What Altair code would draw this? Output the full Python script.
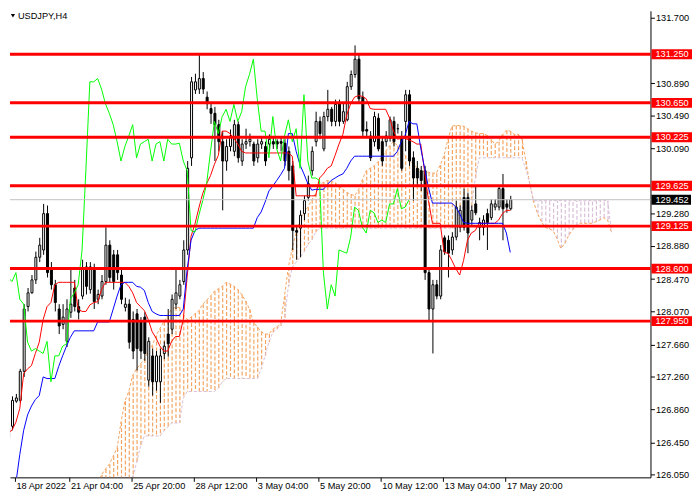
import altair as alt
import pandas as pd

# ---------------- data (USDJPY, H4) ----------------
opens = [
    126.51, 126.65, 126.96, 126.97, 127.33, 128.13, 128.30, 128.46, 128.74, 128.83,
    129.28, 128.59, 128.40, 128.10, 127.91, 127.70, 128.06, 128.36, 128.13, 128.26,
    128.62, 128.34, 128.61, 128.22, 128.26, 128.44, 128.89, 128.77, 128.77, 128.52,
    128.12, 128.16, 127.97, 128.04, 127.94, 128.00, 127.22, 127.52, 127.20, 127.20,
    127.55, 127.79, 127.85, 128.16, 128.26, 128.44, 128.83, 129.97, 130.81, 130.82,
    130.95, 130.72, 130.58, 130.52, 130.38, 130.17, 129.93, 130.11, 130.05, 130.38,
    129.93, 130.14, 130.17, 130.14, 129.97, 130.14, 130.11, 130.14, 130.17, 130.17,
    130.17, 130.15, 130.05, 129.87, 129.07, 129.10, 129.28, 129.48, 129.81, 130.17,
    130.42, 130.08, 130.48, 130.57, 130.42, 130.64, 130.42, 130.44, 130.85, 131.00,
    131.19, 130.72, 130.32, 130.24, 130.17, 130.46, 130.17, 130.17, 130.21, 130.42,
    130.33, 130.21, 130.42, 130.75, 129.97, 129.84, 129.81, 129.81, 128.55, 128.10,
    128.40, 128.26, 128.98, 128.95, 128.83, 128.99, 129.11, 129.48, 129.48, 129.20,
    129.40, 129.11, 129.11, 129.28, 129.23, 129.36, 129.36, 129.59, 129.40, 129.34,
]
highs = [
    126.69, 127.02, 127.05, 127.36, 128.16, 128.36, 128.52, 128.81, 128.98, 129.40,
    129.38, 128.68, 128.46, 128.16, 128.16, 128.22, 128.62, 128.46, 128.22, 128.71,
    128.68, 128.68, 128.66, 128.34, 128.52, 129.11, 128.95, 128.83, 128.83, 128.59,
    128.24, 128.22, 128.07, 128.10, 128.00, 128.06, 127.75, 127.61, 127.58, 127.61,
    127.70, 128.10, 128.28, 128.59, 128.46, 128.95, 129.93, 130.97, 131.01, 131.24,
    131.03, 130.79, 130.66, 130.60, 130.44, 130.30, 130.20, 130.32, 130.44, 130.42,
    130.20, 130.33, 130.27, 130.17, 130.20, 130.24, 130.17, 130.26, 130.22, 130.20,
    130.22, 130.20, 130.11, 129.93, 129.14, 129.32, 129.50, 129.75, 130.11, 130.54,
    130.48, 130.54, 130.81, 130.60, 130.69, 130.69, 130.64, 130.91, 131.05, 131.36,
    131.25, 130.79, 130.42, 130.30, 130.54, 130.52, 130.24, 130.30, 130.48, 130.48,
    130.39, 130.30, 130.81, 130.81, 130.05, 129.93, 129.87, 129.87, 128.61, 128.46,
    128.46, 128.89, 129.01, 129.01, 129.05, 129.44, 129.38, 129.59, 129.54, 129.38,
    129.62, 129.23, 129.26, 129.34, 129.46, 129.46, 129.62, 129.77, 129.46, 129.50,
]
lows = [
    126.43, 126.60, 126.94, 126.94, 127.26, 128.07, 128.29, 128.41, 128.68, 128.77,
    128.49, 128.34, 128.07, 127.79, 127.85, 127.63, 127.99, 128.07, 127.97, 128.22,
    128.28, 128.29, 128.10, 128.16, 128.22, 128.40, 128.43, 128.34, 128.46, 128.16,
    128.07, 127.61, 127.48, 127.34, 127.48, 127.46, 127.14, 127.03, 127.09, 126.94,
    127.48, 127.51, 127.79, 128.10, 128.22, 128.40, 128.77, 129.87, 130.76, 130.76,
    130.76, 130.57, 130.39, 129.93, 130.05, 129.32, 129.81, 130.05, 129.99, 129.91,
    129.87, 130.08, 130.11, 129.87, 129.91, 130.08, 129.87, 130.05, 130.08, 130.08,
    130.05, 129.87, 129.69, 128.83, 128.71, 128.74, 129.20, 129.44, 129.75, 130.11,
    130.20, 130.05, 130.42, 130.36, 130.36, 130.36, 130.39, 130.42, 130.81, 130.96,
    130.66, 130.24, 130.24, 129.93, 130.11, 130.05, 129.87, 130.11, 130.17, 130.11,
    130.27, 129.81, 130.05, 129.87, 129.44, 129.62, 129.56, 128.46, 127.95, 127.55,
    128.22, 128.22, 128.77, 128.49, 128.77, 128.95, 129.05, 129.07, 128.79, 129.14,
    129.26, 128.95, 129.01, 128.83, 129.20, 129.32, 129.32, 128.95, 129.29, 129.32,
]
closes = [
    126.63, 126.97, 127.00, 127.33, 128.10, 128.30, 128.46, 128.74, 128.89, 129.28,
    128.55, 128.40, 128.18, 127.89, 128.00, 128.10, 128.16, 128.13, 128.06, 128.59,
    128.38, 128.62, 128.19, 128.28, 128.44, 128.89, 128.49, 128.44, 128.55, 128.22,
    128.16, 127.69, 127.58, 127.61, 127.58, 127.55, 127.70, 127.20, 127.52, 127.52,
    127.64, 127.67, 128.22, 128.30, 128.40, 128.83, 129.84, 130.91, 130.91, 130.95,
    130.82, 130.64, 130.52, 130.38, 130.17, 129.93, 130.11, 130.24, 130.38, 129.97,
    130.14, 130.17, 130.20, 129.93, 130.14, 130.17, 129.93, 130.20, 130.14, 130.14,
    130.15, 129.93, 129.81, 129.07, 129.05, 129.26, 129.44, 129.65, 130.05, 130.42,
    130.27, 130.48, 130.57, 130.42, 130.63, 130.42, 130.54, 130.85, 131.00, 131.19,
    130.70, 130.30, 130.30, 129.97, 130.48, 130.08, 129.93, 130.24, 130.44, 130.17,
    130.33, 129.84, 130.75, 129.93, 129.72, 129.72, 129.69, 128.55, 128.10, 128.40,
    128.26, 128.83, 128.81, 128.79, 128.99, 129.36, 129.32, 129.11, 129.04, 129.32,
    129.29, 129.17, 129.20, 129.17, 129.40, 129.40, 129.59, 129.34, 129.36, 129.452,
]
tenkan = [
    126.57, 126.60, 126.70, 126.87, 127.30, 127.36, 127.40, 127.55, 127.69, 127.97,
    128.13, 128.18, 128.40, 128.43, 128.43, 128.43, 128.43, 128.43, 128.10, 128.07,
    128.07, 128.15, 128.18, 128.19, 128.34, 128.43, 128.43, 128.43, 128.43, 128.43,
    128.43, 128.38, 128.30, 128.18, 128.13, 128.08, 127.97, 127.82, 127.74, 127.64,
    127.58, 127.58, 127.70, 127.76, 127.76, 127.97, 128.50, 129.00, 129.15, 129.35,
    129.53, 129.65, 129.75, 129.89, 130.00, 130.30, 130.30, 130.27, 130.21, 130.14,
    130.05, 130.03, 130.03, 130.03, 130.03, 130.03, 130.03, 130.03, 130.03, 130.03,
    130.03, 130.03, 130.03, 129.99, 129.50, 129.50, 129.50, 129.50, 129.50, 129.50,
    129.72, 129.77, 129.84, 129.87, 130.00, 130.14, 130.26, 130.50, 130.64, 130.72,
    130.74, 130.73, 130.70, 130.58, 130.57, 130.57, 130.57, 130.57, 130.46, 130.30,
    130.20, 130.21, 130.21, 130.19, 130.17, 130.14, 130.14, 129.80, 129.44, 129.16,
    129.16, 129.16, 128.80, 128.79, 128.70, 128.60, 128.52, 128.70, 128.95, 129.04,
    129.07, 129.16, 129.16, 129.16, 129.16, 129.16, 129.20, 129.28, 129.32, 129.32,
]
kijun = [
    125.60, 125.80, 125.95, 126.30, 126.60, 126.79, 126.90, 126.98, 127.03, 127.26,
    127.24, 127.24, 127.24, 127.39, 127.52, 127.64, 127.75, 127.83, 127.83, 127.83,
    127.83, 127.83, 127.83, 127.94, 127.94, 127.94, 127.94, 128.10, 128.26, 128.40,
    128.43, 128.43, 128.43, 128.38, 128.37, 128.33, 128.18, 128.07, 128.04, 128.02,
    128.02, 128.02, 128.02, 128.02, 128.02, 128.10, 128.59, 128.95, 129.07, 129.10,
    129.10, 129.10, 129.10, 129.10, 129.10, 129.10, 129.10, 129.10, 129.10, 129.10,
    129.10, 129.10, 129.10, 129.10, 129.23, 129.30, 129.42, 129.56, 129.62, 129.69,
    129.76, 129.84, 130.27, 130.27, 130.05, 129.88, 129.77, 129.65, 129.57, 129.58,
    129.58, 129.58, 129.64, 129.69, 129.72, 129.75, 129.77, 129.84, 129.93, 129.99,
    129.99, 129.99, 129.99, 129.99, 129.99, 129.99, 129.99, 129.99, 129.99, 129.99,
    130.05, 130.17, 130.25, 130.42, 130.39, 130.39, 130.09, 129.84, 129.60, 129.41,
    129.41, 129.41, 129.41, 129.41, 129.41, 129.36, 129.28, 129.17, 129.16, 129.16,
    129.16, 129.16, 129.16, 129.16, 129.16, 129.16, 129.16, 129.16, 129.04, 128.80,
]
chikou_shift = 26
span_start = 23
span_a = [
    125.95, 126.05, 126.12, 126.18, 126.28, 126.38, 126.70, 126.96, 127.08, 127.28,
    127.36, 127.42, 127.48, 127.58, 127.65, 127.77, 127.86, 127.94, 128.02, 128.10,
    128.12, 128.12, 128.03, 127.97, 128.00, 128.04, 128.08, 128.16, 128.21, 128.26,
    128.32, 128.35, 128.38, 128.43, 128.41, 128.38, 128.34, 128.28, 128.20, 128.10,
    127.94, 127.88, 127.82, 127.79, 127.79, 127.85, 127.88, 127.91, 128.26, 128.62,
    128.85, 129.05, 129.20, 129.30, 129.36, 129.45, 129.53, 129.62, 129.67, 129.69,
    129.68, 129.66, 129.62, 129.58, 129.54, 129.52, 129.50, 129.57, 129.70, 129.81,
    129.84, 129.87, 129.92, 129.98, 130.05, 130.12, 130.17, 130.12, 130.05, 130.00,
    129.95, 129.90, 129.85, 129.81, 129.80, 129.79, 129.78, 129.78, 129.88, 130.00,
    130.20, 130.36, 130.37, 130.37, 130.36, 130.33, 130.30, 130.28, 130.27, 130.27,
    130.25, 130.20, 130.14, 130.17, 130.26, 130.31, 130.30, 130.26, 130.26, 130.20,
    129.93, 129.65, 129.42, 129.28, 129.18, 129.11, 129.09, 129.07, 128.97, 128.85,
    128.91, 129.01, 129.08, 129.13, 129.16, 129.16, 129.16, 129.16, 129.18, 129.20,
    129.23, 129.20, 129.05,
]
span_b = [
    125.60, 125.62, 125.65, 125.68, 125.72, 125.76, 125.82, 125.88, 125.95, 126.02,
    126.20, 126.40, 126.53, 126.53, 126.53, 126.53, 126.53, 126.59, 126.64, 126.69,
    126.69, 126.69, 127.00, 127.08, 127.08, 127.08, 127.08, 127.08, 127.08, 127.08,
    127.08, 127.12, 127.20, 127.24, 127.24, 127.24, 127.24, 127.24, 127.24, 127.24,
    127.24, 127.24, 127.36, 127.52, 127.69, 127.81, 127.85, 127.89, 127.98, 128.38,
    128.62, 128.68, 128.74, 128.80, 128.90, 128.95, 129.05, 129.10, 129.10, 129.10,
    129.10, 129.10, 129.10, 129.10, 129.10, 129.10, 129.10, 129.10, 129.10, 129.10,
    129.10, 129.10, 129.10, 129.10, 129.10, 129.10, 129.10, 129.10, 129.10, 129.10,
    129.10, 129.10, 129.10, 129.10, 129.10, 129.10, 129.10, 129.10, 129.10, 129.10,
    129.10, 129.10, 129.10, 129.35, 129.35, 129.35, 129.35, 129.71, 129.97, 129.97,
    129.97, 129.97, 129.97, 129.97, 129.97, 129.97, 129.97, 129.97, 129.97, 129.97,
    129.83, 129.65, 129.44, 129.44, 129.44, 129.44, 129.44, 129.44, 129.44, 129.44,
    129.44, 129.44, 129.44, 129.44, 129.44, 129.44, 129.44, 129.44, 129.44, 129.44,
    129.44, 129.44, 129.05,
]
levels = [131.250, 130.650, 130.225, 129.625, 129.125, 128.600, 127.950]
last_price = 129.452
price_ticks = [131.700, 130.890, 130.490, 130.090, 129.280,
               128.880, 128.470, 128.070, 127.660, 127.260, 126.860, 126.450, 126.050]
date_ticks = [1.75, 15.75, 31.75, 47.75, 63.75, 79.75, 95.75, 111.75, 127.75]
date_labels = ["18 Apr 2022", "21 Apr 04:00", "25 Apr 20:00", "28 Apr 12:00",
               "3 May 04:00", "5 May 20:00", "10 May 12:00", "13 May 04:00", "17 May 20:00"]
symbol_title = "USDJPY,H4"

# ---------------- tables ----------------
FONT = "Liberation Sans"
FS = 9.3
n = len(closes)
bars = pd.DataFrame({"i": list(range(n)), "o": opens, "h": highs, "l": lows, "c": closes})
bars["top"] = bars[["o", "c"]].max(axis=1)
bars["bot"] = bars[["o", "c"]].min(axis=1)
bars["up"] = (bars["c"] >= bars["o"]).astype(int)

lines = pd.DataFrame({"i": list(range(n)), "tenkan": tenkan, "kijun": kijun})
chikou = pd.DataFrame({"i": list(range(n - chikou_shift)), "v": closes[chikou_shift:]})
cloud = pd.DataFrame({"i": list(range(span_start, span_start + len(span_a))),
                      "a": span_a, "b": span_b})
lvl = pd.DataFrame({"p": levels, "lab": ["%.3f" % v for v in levels]})
last = pd.DataFrame({"p": [last_price], "lab": ["%.3f" % last_price]})
ttl = pd.DataFrame({"t": [symbol_title]})

xs = alt.Scale(domain=[1.75, 163.75], nice=False, zero=False)
ys = alt.Scale(domain=[126.018, 131.788], nice=False, zero=False)

expr = "''"
for v, lab in reversed(list(zip(date_ticks, date_labels))):
    expr = f"abs(datum.value - {v}) < 0.01 ? '{lab}' : ({expr})"

x_axis = alt.Axis(orient="bottom", values=date_ticks, labelExpr=expr, labelAlign="left",
                  labelBaseline="top", labelOffset=1, labelPadding=0, tickSize=4,
                  tickColor="black", domainColor="black", labelColor="black",
                  labelFont=FONT, labelFontSize=FS, grid=False, title=None,
                  labelFlush=False, labelOverlap=False)
y_axis = alt.Axis(orient="right", values=price_ticks, format=".3f", tickSize=4,
                  labelPadding=1, tickColor="black", domainColor="black",
                  labelColor="black", labelFont=FONT, labelFontSize=FS, grid=False,
                  title=None, labelFlush=False, labelOverlap=False)


def X(f):
    return alt.X(f, scale=xs, axis=x_axis)


def Y(f):
    return alt.Y(f, scale=ys, axis=y_axis)


hatch = alt.Chart(cloud).mark_rule(strokeWidth=1.2, strokeDash=[4, 2], clip=True, xOffset=0.5).encode(
    x=X("i:Q"), y=Y("a:Q"), y2="b:Q",
    stroke=alt.condition("datum.a >= datum.b", alt.value("#F4A460"), alt.value("#D8BFD8")))
edge_a = alt.Chart(cloud).mark_line(color="#F4A460", strokeWidth=1, strokeDash=[3, 2], clip=True).encode(
    x=X("i:Q"), y=Y("a:Q"))
edge_b = alt.Chart(cloud).mark_line(color="#D8BFD8", strokeWidth=1, strokeDash=[3, 2], clip=True).encode(
    x=X("i:Q"), y=Y("b:Q"))

wick = alt.Chart(bars).mark_rule(color="black", strokeWidth=1, clip=True, xOffset=0.5).encode(
    x=X("i:Q"), y=Y("l:Q"), y2="h:Q")
body = alt.Chart(bars).mark_bar(size=2, stroke="black", strokeWidth=1, clip=True, xOffset=0.5).encode(
    x=X("i:Q"), y=Y("bot:Q"), y2="top:Q",
    fill=alt.condition("datum.up == 1", alt.value("white"), alt.value("black")))

tenkan_l = alt.Chart(lines).mark_line(color="#ff0000", strokeWidth=1, clip=True).encode(
    x=X("i:Q"), y=Y("tenkan:Q"))
kijun_l = alt.Chart(lines).mark_line(color="#0000ff", strokeWidth=1, clip=True).encode(
    x=X("i:Q"), y=Y("kijun:Q"))
chikou_l = alt.Chart(chikou).mark_line(color="#00ff00", strokeWidth=1, clip=True).encode(
    x=X("i:Q"), y=Y("v:Q"))

gray = alt.Chart(last).mark_rule(color="#c0c0c0", strokeWidth=1).encode(y=Y("p:Q"))
lvl_lines = alt.Chart(lvl).mark_rule(color="#ff0000", strokeWidth=3).encode(y=Y("p:Q"))

lvl_box = alt.Chart(lvl).mark_rect(color="#ff0000", yOffset=-5, y2Offset=5).encode(
    x=alt.value(649), x2=alt.value(690), y=Y("p:Q"), y2="p:Q")
lvl_txt = alt.Chart(lvl).mark_text(color="white", align="left", baseline="middle",
                                   font=FONT, fontSize=FS).encode(
    x=alt.value(653), y=Y("p:Q"), text="lab:N")
last_box = alt.Chart(last).mark_rect(color="black", yOffset=-5, y2Offset=5).encode(
    x=alt.value(649), x2=alt.value(689), y=Y("p:Q"), y2="p:Q")
last_txt = alt.Chart(last).mark_text(color="white", align="left", baseline="middle",
                                     font=FONT, fontSize=FS).encode(
    x=alt.value(653), y=Y("p:Q"), text="lab:N")

tri = alt.Chart(ttl).mark_point(shape="triangle-down", filled=True, color="black", size=18, opacity=1).encode(
    x=alt.value(3), y=alt.value(5))
title = alt.Chart(ttl).mark_text(color="black", align="left", baseline="top", font=FONT, fontSize=FS).encode(
    x=alt.value(8), y=alt.value(1), text="t:N")

chart = alt.layer(
    hatch, edge_a, edge_b, wick, body, tenkan_l, kijun_l, chikou_l,
    gray, lvl_lines, lvl_box, lvl_txt, last_box, last_txt, tri, title
).properties(
    width=648, height=472, padding=0, background="white",
    autosize=alt.AutoSizeParams(type="pad"),
).configure_view(strokeWidth=0)

chart.save("out.html", embed_options={"renderer": "svg", "actions": False})
